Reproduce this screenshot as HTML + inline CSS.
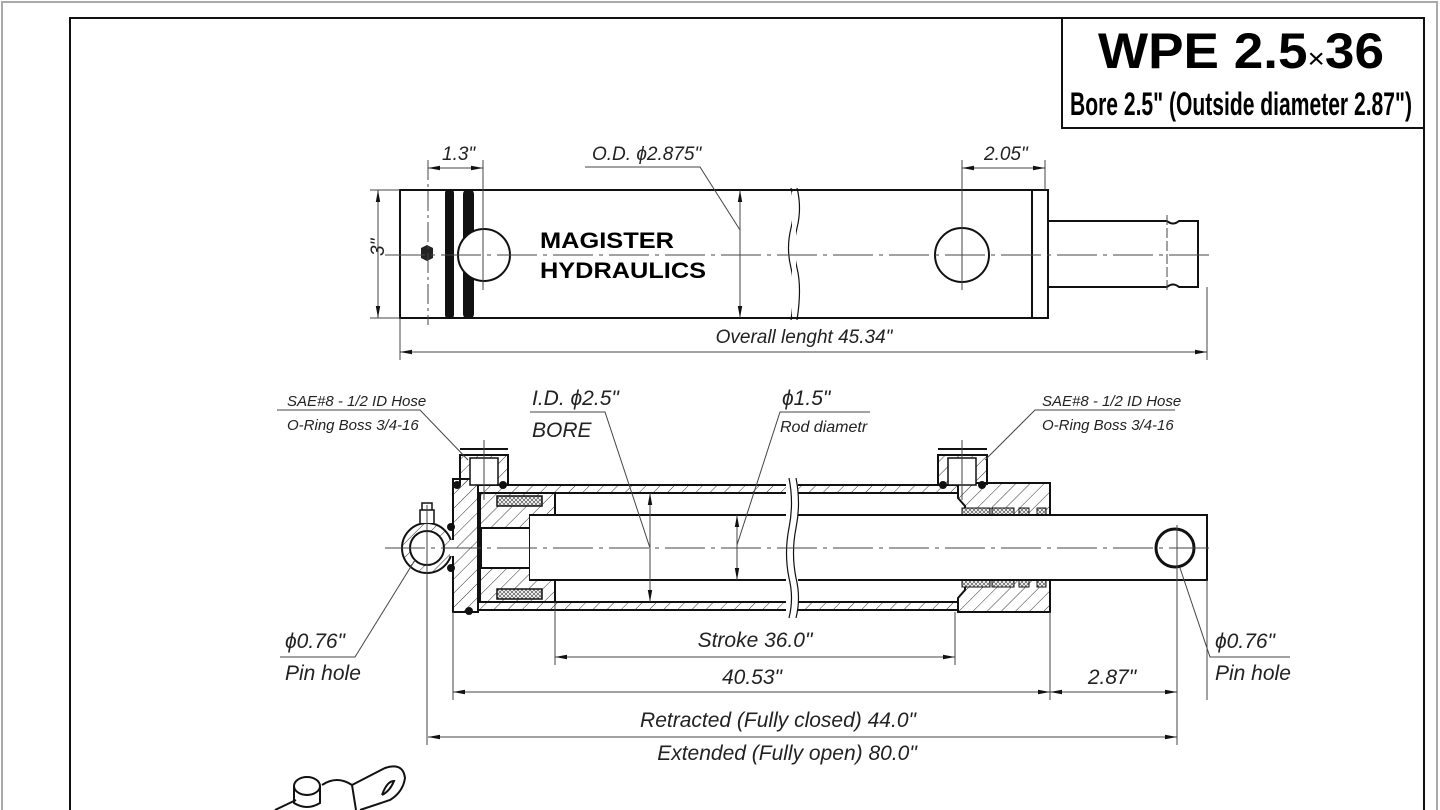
<!DOCTYPE html>
<html><head><meta charset="utf-8"><style>
html,body{margin:0;padding:0;background:#fff}
svg{display:block}
.d{font-family:"Liberation Sans Narrow","Liberation Sans",sans-serif;font-style:italic;font-weight:300;fill:#222}
</style></head><body>
<svg width="1440" height="810" viewBox="0 0 1440 810" xmlns="http://www.w3.org/2000/svg">
<defs>
<marker id="a" viewBox="0 0 12 6" refX="12" refY="3" markerWidth="12" markerHeight="6" orient="auto-start-reverse" markerUnits="userSpaceOnUse"><path d="M0,0.8L12,3L0,5.2z" fill="#111"/></marker>
<pattern id="h" width="10" height="10" patternUnits="userSpaceOnUse" patternTransform="rotate(45)"><line x1="0" y1="0" x2="0" y2="10" stroke="#333" stroke-width="1"/></pattern>
<pattern id="x" width="4" height="4" patternUnits="userSpaceOnUse"><rect width="4" height="4" fill="#fff"/><path d="M0,0L4,4M4,0L0,4" stroke="#555" stroke-width="0.7"/></pattern>
</defs>
<rect x="0" y="0" width="1440" height="810" fill="#fff"/>
<path d="M2,810V2H1437V810" fill="none" stroke="#aaa" stroke-width="2"/>
<path d="M70,810V18H1424V810" fill="none" stroke="#111" stroke-width="2"/>
<rect x="1062" y="18" width="362" height="110" fill="#fff" stroke="#111" stroke-width="2"/>
<text x="1098" y="68" font-family="Liberation Sans,sans-serif" font-weight="bold" font-size="50" fill="#000" textLength="286" lengthAdjust="spacingAndGlyphs">WPE 2.5<tspan font-size="28" font-weight="normal">×</tspan>36</text>
<text x="1070" y="115" font-family="Liberation Sans Narrow,Liberation Sans,sans-serif" font-weight="bold" font-size="32" fill="#000" textLength="342" lengthAdjust="spacingAndGlyphs">Bore 2.5" (Outside diameter 2.87")</text>

<!-- TOP VIEW -->
<g stroke="#111" fill="none" stroke-width="2">
<rect x="400" y="190" width="648" height="128" fill="#fff"/>
<line x1="1032" y1="190" x2="1032" y2="318"/>
<path d="M1048,221H1167q6,5 12,0H1198V287H1179q-6,-5 -12,0H1048"/>
<rect x="446" y="190" width="7" height="128" rx="3" fill="#111"/>
<rect x="464" y="190" width="9" height="128" rx="4" fill="#111"/>
<circle cx="484" cy="255" r="26" fill="#fff"/>
<circle cx="962" cy="255" r="27" fill="#fff"/>
<path d="M791,188q5,20 0,40q-5,20 0,40q5,20 0,52" stroke-width="1.2"/>
<path d="M797,188q5,20 0,40q-5,20 0,40q5,20 0,52" stroke-width="1.2"/>
</g>
<rect x="792" y="192" width="4" height="124" fill="#fff"/>
<polygon points="421,248 427,245 433,248 433,258 427,261 421,258" fill="#222"/>
<g stroke="#444" stroke-width="1" fill="none">
<line x1="385" y1="255" x2="1215" y2="255" stroke-dasharray="40,6,4,6"/>
<line x1="428" y1="160" x2="428" y2="325" stroke-dasharray="20,4,3,4"/>
<line x1="483" y1="160" x2="483" y2="290"/>
<line x1="962" y1="160" x2="962" y2="290"/>
<line x1="1045" y1="160" x2="1045" y2="190"/>
<line x1="1167" y1="215" x2="1167" y2="292" stroke-dasharray="10,3"/>
<line x1="1207" y1="287" x2="1207" y2="360"/>
<line x1="400" y1="318" x2="400" y2="360"/>
<line x1="370" y1="190" x2="400" y2="190"/><line x1="370" y1="318" x2="400" y2="318"/>
<line x1="428" y1="168" x2="483" y2="168" marker-start="url(#a)" marker-end="url(#a)"/>
<line x1="962" y1="168" x2="1045" y2="168" marker-start="url(#a)" marker-end="url(#a)"/>
<line x1="378" y1="190" x2="378" y2="318" marker-start="url(#a)" marker-end="url(#a)"/>
<line x1="400" y1="352" x2="1207" y2="352" marker-start="url(#a)" marker-end="url(#a)"/>
<line x1="740" y1="190" x2="740" y2="318" marker-start="url(#a)" marker-end="url(#a)"/>
<path d="M585,167H700L740,230"/>
</g>
<text x="540" y="248" font-family="Liberation Sans,sans-serif" font-weight="bold" font-size="22" fill="#000" textLength="134" lengthAdjust="spacingAndGlyphs">MAGISTER</text>
<text x="540" y="278" font-family="Liberation Sans,sans-serif" font-weight="bold" font-size="22" fill="#000" textLength="166" lengthAdjust="spacingAndGlyphs">HYDRAULICS</text>
<g class="d" font-size="19">
<text x="442" y="160">1.3"</text>
<text x="592" y="160">O.D. ϕ2.875"</text>
<text x="984" y="160">2.05"</text>
<text x="374" y="266" transform="rotate(-90 374 256)">3"</text>
<text x="804" y="343" text-anchor="middle">Overall lenght 45.34"</text>
</g>

<!-- SECTION VIEW -->
<g stroke="#111" stroke-width="2">
<rect x="478" y="485" width="480" height="8" fill="url(#h)"/>
<rect x="478" y="602" width="480" height="8" fill="url(#h)"/>
<rect x="453" y="479" width="25" height="133" fill="url(#h)"/>
<path d="M480,493H555V515H530V580H555V602H480Z" fill="url(#h)"/>
<rect x="497" y="496" width="45" height="10" fill="url(#x)" stroke-width="1.5"/>
<rect x="497" y="589" width="45" height="10" fill="url(#x)" stroke-width="1.5"/>
<rect x="481" y="528" width="49" height="40" fill="#fff"/>
<path d="M958,483H1050V612H958V598L965,590V580H1050V515H965V506L958,498Z" fill="url(#h)"/>
<rect x="962" y="508" width="28" height="7" fill="url(#x)" stroke-width="1"/>
<rect x="992" y="508" width="22" height="7" fill="url(#x)" stroke-width="1"/>
<rect x="1019" y="508" width="10" height="7" fill="url(#x)" stroke-width="1"/>
<rect x="1037" y="508" width="9" height="7" fill="url(#x)" stroke-width="1"/>
<rect x="962" y="580" width="28" height="7" fill="url(#x)" stroke-width="1"/>
<rect x="992" y="580" width="22" height="7" fill="url(#x)" stroke-width="1"/>
<rect x="1019" y="580" width="10" height="7" fill="url(#x)" stroke-width="1"/>
<rect x="1037" y="580" width="9" height="7" fill="url(#x)" stroke-width="1"/>
<path d="M530,515H1207V580H530" fill="#fff"/>
<circle cx="1175" cy="548" r="19" fill="#fff" stroke-width="3"/>
<path d="M460,485V455H508V485" fill="url(#h)"/>
<rect x="470" y="458" width="28" height="27" fill="#fff" stroke-width="1.5"/>
<line x1="460" y1="449" x2="508" y2="449"/>
<path d="M938,485V455H987V485" fill="url(#h)"/>
<rect x="948" y="458" width="28" height="27" fill="#fff" stroke-width="1.5"/>
<line x1="938" y1="449" x2="987" y2="449"/>
<circle cx="427" cy="548" r="25" fill="url(#h)"/>
<circle cx="427" cy="548" r="17" fill="#fff"/>
<rect x="450" y="540" width="6" height="16" fill="#fff" stroke="none"/>
<path d="M420,523V510H434V523M422,510V503H432V510" fill="#fff" stroke-width="1.5"/>
</g>
<g fill="#111"><circle cx="457" cy="485" r="4"/><circle cx="503" cy="485" r="4"/><circle cx="943" cy="485" r="4"/><circle cx="982" cy="485" r="4"/><circle cx="469" cy="611" r="4"/><circle cx="451" cy="527" r="4"/><circle cx="451" cy="568" r="4"/></g>
<rect x="786" y="478" width="12" height="140" fill="#fff"/>
<path d="M789,478q5,25 0,50q-5,25 0,50q5,20 0,40M796,478q5,25 0,50q-5,25 0,50q5,20 0,40" fill="none" stroke="#111" stroke-width="1.2"/>
<g stroke="#444" stroke-width="1" fill="none">
<line x1="385" y1="548" x2="1215" y2="548" stroke-dasharray="40,6,4,6"/>
<line x1="484" y1="440" x2="484" y2="500"/><line x1="962" y1="440" x2="962" y2="500"/>
<line x1="427" y1="505" x2="427" y2="745"/>
<line x1="1177" y1="525" x2="1177" y2="745"/>
<line x1="1207" y1="580" x2="1207" y2="700"/>
<line x1="453" y1="612" x2="453" y2="700"/>
<line x1="555" y1="602" x2="555" y2="665"/>
<line x1="955" y1="612" x2="955" y2="665"/>
<line x1="1050" y1="612" x2="1050" y2="700"/>
<line x1="555" y1="657" x2="955" y2="657" marker-start="url(#a)" marker-end="url(#a)"/>
<line x1="453" y1="692" x2="1050" y2="692" marker-start="url(#a)" marker-end="url(#a)"/>
<line x1="1050" y1="692" x2="1177" y2="692" marker-start="url(#a)" marker-end="url(#a)"/>
<line x1="428" y1="737" x2="1177" y2="737" marker-start="url(#a)" marker-end="url(#a)"/>
<line x1="650" y1="493" x2="650" y2="602" marker-start="url(#a)" marker-end="url(#a)"/>
<line x1="737" y1="515" x2="737" y2="580" marker-start="url(#a)" marker-end="url(#a)"/>
<path d="M277,410H420L468,460"/>
<path d="M530,412H605L650,548"/>
<path d="M870,412H780L737,545"/>
<path d="M1175,410H1035L985,460"/>
<path d="M280,657H355L415,560"/>
<path d="M1290,657H1210L1180,568"/>
</g>
<g class="d">
<text x="287" y="406" font-size="15">SAE#8 - 1/2 ID Hose</text>
<text x="287" y="430" font-size="15">O-Ring Boss 3/4-16</text>
<text x="1042" y="406" font-size="15">SAE#8 - 1/2 ID Hose</text>
<text x="1042" y="430" font-size="15">O-Ring Boss 3/4-16</text>
<text x="532" y="405" font-size="21">I.D. ϕ2.5"</text>
<text x="532" y="437" font-size="21">BORE</text>
<text x="782" y="405" font-size="21">ϕ1.5"</text>
<text x="780" y="432" font-size="16">Rod diametr</text>
<text x="285" y="648" font-size="21">ϕ0.76"</text>
<text x="285" y="680" font-size="21">Pin hole</text>
<text x="1215" y="648" font-size="21">ϕ0.76"</text>
<text x="1215" y="680" font-size="21">Pin hole</text>
<text x="755" y="647" font-size="21" text-anchor="middle">Stroke 36.0"</text>
<text x="752" y="684" font-size="21" text-anchor="middle">40.53"</text>
<text x="1112" y="684" font-size="21" text-anchor="middle">2.87"</text>
<text x="778" y="727" font-size="21" text-anchor="middle">Retracted (Fully closed) 44.0"</text>
<text x="787" y="760" font-size="21" text-anchor="middle">Extended (Fully open) 80.0"</text>
</g>
<g stroke="#111" stroke-width="2" fill="none">
<path d="M275,810L296,800"/>
<ellipse cx="307" cy="786" rx="13" ry="9"/>
<path d="M294,786V803q13,8 26,0V786"/>
<path d="M322,785q15,-10 30,0L356,810M352,785L385,768q18,-6 20,10q-2,14 -15,22L360,810"/>
<path d="M382,795q5,-14 12,-14q-4,10 -12,14"/>
</g>
</svg>
</body></html>
